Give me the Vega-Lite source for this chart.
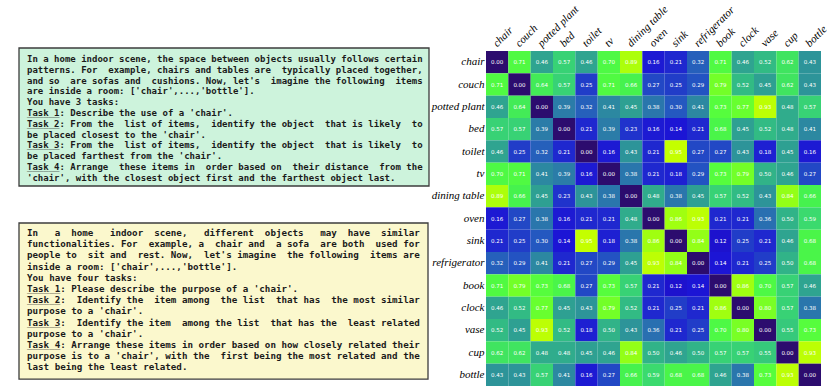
{
  "$schema": "https://vega.github.io/schema/vega-lite/v6.json",
  "padding": {"left": 18, "top": 3, "right": 0, "bottom": 0},
  "background": "white",
  "bounds": "flush",
  "spacing": 57,
  "config": {"view": {"stroke": null}},
  "hconcat": [
    {
      "width": 410,
      "height": 335,
      "resolve": {"scale": {"x": "independent", "y": "independent"}},
      "layer": [
        {
          "data": {"values": [
            {"line": 1, "text": "In a home indoor scene, the space between objects usually follows certain", "u": ""},
            {"line": 2, "text": "patterns. For\u00a0 example, chairs and tables are\u00a0 typically placed together,", "u": ""},
            {"line": 3, "text": "and so\u00a0 are sofas and\u00a0 cushions. Now, let's\u00a0 imagine the following\u00a0 items", "u": ""},
            {"line": 4, "text": "are inside a room: ['chair',...,'bottle'].", "u": ""},
            {"line": 5, "text": "You have 3 tasks:", "u": ""},
            {"line": 6, "text": "Task 1: Describe the use of a 'chair'.", "u": "______"},
            {"line": 7, "text": "Task 2: From the\u00a0 list of items,\u00a0 identify the object\u00a0 that is likely\u00a0 to", "u": "______"},
            {"line": 8, "text": "be placed closest to the 'chair'.", "u": ""},
            {"line": 9, "text": "Task 3: From the\u00a0 list of items,\u00a0 identify the object\u00a0 that is likely\u00a0 to", "u": "______"},
            {"line": 10, "text": "be placed farthest from the 'chair'.", "u": ""},
            {"line": 11, "text": "Task 4: Arrange\u00a0 these items in\u00a0 order based on\u00a0 their distance\u00a0 from the", "u": "______"},
            {"line": 12, "text": "'chair', with the closest object first and the farthest object last.", "u": ""}
          ]},
          "layer": [
            {
              "data": {"values": [{}]},
              "mark": {"type": "rect", "fill": "#cdf3dc", "stroke": "#3c3c3c", "strokeWidth": 1.3},
              "encoding": {
                "x": {"datum": -1.476, "type": "quantitative", "scale": {"domain": [-1.476, 74.19], "nice": false, "zero": false}, "axis": null},
                "x2": {"datum": 74.19},
                "y": {"datum": -0.02, "type": "quantitative", "scale": {"domain": [0.2593, 31.278], "reverse": true, "nice": false, "zero": false}, "axis": null},
                "y2": {"datum": 12.76}
              }
            },
            {
              "mark": {"type": "text", "align": "left", "baseline": "middle", "font": "DejaVu Sans Mono", "fontWeight": "bold", "fontSize": 9, "color": "#1a1a1a"},
              "encoding": {
                "x": {"datum": 0, "type": "quantitative", "scale": {"domain": [-1.476, 74.19], "nice": false, "zero": false}, "axis": null},
                "y": {"field": "line", "type": "quantitative", "scale": {"domain": [0.2593, 31.278], "reverse": true, "nice": false, "zero": false}, "axis": null},
                "text": {"field": "text"}
              }
            },
            {
              "mark": {"type": "text", "align": "left", "baseline": "middle", "font": "DejaVu Sans Mono", "fontSize": 9, "color": "#1a1a1a"},
              "encoding": {
                "x": {"datum": 0, "type": "quantitative", "scale": {"domain": [-1.476, 74.19], "nice": false, "zero": false}, "axis": null},
                "y": {"field": "line", "type": "quantitative", "scale": {"domain": [0.2593, 31.278], "reverse": true, "nice": false, "zero": false}, "axis": null},
                "text": {"field": "u"}
              }
            }
          ]
        },
        {
          "data": {"values": [
            {"line": 1, "text": "In \u00a0 a \u00a0home \u00a0 indoor \u00a0scene, \u00a0 different \u00a0objects \u00a0 may \u00a0have \u00a0similar", "u": ""},
            {"line": 2, "text": "functionalities. For\u00a0 example, a\u00a0 chair and\u00a0 a sofa\u00a0 are both\u00a0 used for", "u": ""},
            {"line": 3, "text": "people to\u00a0 sit and\u00a0 rest. Now,\u00a0 let's imagine\u00a0 the following\u00a0 items are", "u": ""},
            {"line": 4, "text": "inside a room: ['chair',...,'bottle'].", "u": ""},
            {"line": 5, "text": "You have four tasks:", "u": ""},
            {"line": 6, "text": "Task 1: Please describe the purpose of a 'chair'.", "u": "______"},
            {"line": 7, "text": "Task 2:\u00a0 Identify the\u00a0 item among\u00a0 the list\u00a0 that has\u00a0 the most similar", "u": "______"},
            {"line": 8, "text": "purpose to a 'chair'.", "u": ""},
            {"line": 9, "text": "Task 3:\u00a0 Identify the item\u00a0 among the list\u00a0 that has the\u00a0 least related", "u": "______"},
            {"line": 10, "text": "purpose to a 'chair'.", "u": ""},
            {"line": 11, "text": "Task 4: Arrange these items in order based on how closely related their", "u": "______"},
            {"line": 12, "text": "purpose is to a 'chair', with the\u00a0 first being the most related and the", "u": ""},
            {"line": 13, "text": "last being the least related.", "u": ""}
          ]},
          "layer": [
            {
              "data": {"values": [{}]},
              "mark": {"type": "rect", "fill": "#fbf8cd", "stroke": "#3c3c3c", "strokeWidth": 1.3},
              "encoding": {
                "x": {"datum": -1.444, "type": "quantitative", "scale": {"domain": [-1.444, 72.56], "nice": false, "zero": false}, "axis": null},
                "x2": {"datum": 72.38},
                "y": {"datum": 0.107, "type": "quantitative", "scale": {"domain": [-15.25, 14.66], "reverse": true, "nice": false, "zero": false}, "axis": null},
                "y2": {"datum": 14.04}
              }
            },
            {
              "mark": {"type": "text", "align": "left", "baseline": "middle", "font": "DejaVu Sans Mono", "fontWeight": "bold", "fontSize": 9.2, "color": "#1a1a1a"},
              "encoding": {
                "x": {"datum": 0, "type": "quantitative", "scale": {"domain": [-1.444, 72.56], "nice": false, "zero": false}, "axis": null},
                "y": {"field": "line", "type": "quantitative", "scale": {"domain": [-15.25, 14.66], "reverse": true, "nice": false, "zero": false}, "axis": null},
                "text": {"field": "text"}
              }
            },
            {
              "mark": {"type": "text", "align": "left", "baseline": "middle", "font": "DejaVu Sans Mono", "fontSize": 9.2, "color": "#1a1a1a"},
              "encoding": {
                "x": {"datum": 0, "type": "quantitative", "scale": {"domain": [-1.444, 72.56], "nice": false, "zero": false}, "axis": null},
                "y": {"field": "line", "type": "quantitative", "scale": {"domain": [-15.25, 14.66], "reverse": true, "nice": false, "zero": false}, "axis": null},
                "text": {"field": "u"}
              }
            }
          ]
        }
      ]
    },
    {
      "width": 335,
      "height": 335,
      "data": {"values": [
        {"r":"chair","c":"chair","v":0.00},{"r":"chair","c":"couch","v":0.71},{"r":"chair","c":"potted plant","v":0.46},{"r":"chair","c":"bed","v":0.57},{"r":"chair","c":"toilet","v":0.46},{"r":"chair","c":"tv","v":0.70},{"r":"chair","c":"dining table","v":0.89},{"r":"chair","c":"oven","v":0.16},{"r":"chair","c":"sink","v":0.21},{"r":"chair","c":"refrigerator","v":0.32},{"r":"chair","c":"book","v":0.71},{"r":"chair","c":"clock","v":0.46},{"r":"chair","c":"vase","v":0.52},{"r":"chair","c":"cup","v":0.62},{"r":"chair","c":"bottle","v":0.43},
        {"r":"couch","c":"chair","v":0.71},{"r":"couch","c":"couch","v":0.00},{"r":"couch","c":"potted plant","v":0.64},{"r":"couch","c":"bed","v":0.57},{"r":"couch","c":"toilet","v":0.25},{"r":"couch","c":"tv","v":0.71},{"r":"couch","c":"dining table","v":0.66},{"r":"couch","c":"oven","v":0.27},{"r":"couch","c":"sink","v":0.25},{"r":"couch","c":"refrigerator","v":0.29},{"r":"couch","c":"book","v":0.79},{"r":"couch","c":"clock","v":0.52},{"r":"couch","c":"vase","v":0.45},{"r":"couch","c":"cup","v":0.62},{"r":"couch","c":"bottle","v":0.43},
        {"r":"potted plant","c":"chair","v":0.46},{"r":"potted plant","c":"couch","v":0.64},{"r":"potted plant","c":"potted plant","v":0.00},{"r":"potted plant","c":"bed","v":0.39},{"r":"potted plant","c":"toilet","v":0.32},{"r":"potted plant","c":"tv","v":0.41},{"r":"potted plant","c":"dining table","v":0.45},{"r":"potted plant","c":"oven","v":0.38},{"r":"potted plant","c":"sink","v":0.30},{"r":"potted plant","c":"refrigerator","v":0.41},{"r":"potted plant","c":"book","v":0.73},{"r":"potted plant","c":"clock","v":0.77},{"r":"potted plant","c":"vase","v":0.93},{"r":"potted plant","c":"cup","v":0.48},{"r":"potted plant","c":"bottle","v":0.57},
        {"r":"bed","c":"chair","v":0.57},{"r":"bed","c":"couch","v":0.57},{"r":"bed","c":"potted plant","v":0.39},{"r":"bed","c":"bed","v":0.00},{"r":"bed","c":"toilet","v":0.21},{"r":"bed","c":"tv","v":0.39},{"r":"bed","c":"dining table","v":0.23},{"r":"bed","c":"oven","v":0.16},{"r":"bed","c":"sink","v":0.14},{"r":"bed","c":"refrigerator","v":0.21},{"r":"bed","c":"book","v":0.68},{"r":"bed","c":"clock","v":0.45},{"r":"bed","c":"vase","v":0.52},{"r":"bed","c":"cup","v":0.48},{"r":"bed","c":"bottle","v":0.41},
        {"r":"toilet","c":"chair","v":0.46},{"r":"toilet","c":"couch","v":0.25},{"r":"toilet","c":"potted plant","v":0.32},{"r":"toilet","c":"bed","v":0.21},{"r":"toilet","c":"toilet","v":0.00},{"r":"toilet","c":"tv","v":0.16},{"r":"toilet","c":"dining table","v":0.43},{"r":"toilet","c":"oven","v":0.21},{"r":"toilet","c":"sink","v":0.95},{"r":"toilet","c":"refrigerator","v":0.27},{"r":"toilet","c":"book","v":0.27},{"r":"toilet","c":"clock","v":0.43},{"r":"toilet","c":"vase","v":0.18},{"r":"toilet","c":"cup","v":0.45},{"r":"toilet","c":"bottle","v":0.16},
        {"r":"tv","c":"chair","v":0.70},{"r":"tv","c":"couch","v":0.71},{"r":"tv","c":"potted plant","v":0.41},{"r":"tv","c":"bed","v":0.39},{"r":"tv","c":"toilet","v":0.16},{"r":"tv","c":"tv","v":0.00},{"r":"tv","c":"dining table","v":0.38},{"r":"tv","c":"oven","v":0.21},{"r":"tv","c":"sink","v":0.18},{"r":"tv","c":"refrigerator","v":0.29},{"r":"tv","c":"book","v":0.73},{"r":"tv","c":"clock","v":0.79},{"r":"tv","c":"vase","v":0.50},{"r":"tv","c":"cup","v":0.46},{"r":"tv","c":"bottle","v":0.27},
        {"r":"dining table","c":"chair","v":0.89},{"r":"dining table","c":"couch","v":0.66},{"r":"dining table","c":"potted plant","v":0.45},{"r":"dining table","c":"bed","v":0.23},{"r":"dining table","c":"toilet","v":0.43},{"r":"dining table","c":"tv","v":0.38},{"r":"dining table","c":"dining table","v":0.00},{"r":"dining table","c":"oven","v":0.48},{"r":"dining table","c":"sink","v":0.38},{"r":"dining table","c":"refrigerator","v":0.45},{"r":"dining table","c":"book","v":0.57},{"r":"dining table","c":"clock","v":0.52},{"r":"dining table","c":"vase","v":0.43},{"r":"dining table","c":"cup","v":0.84},{"r":"dining table","c":"bottle","v":0.66},
        {"r":"oven","c":"chair","v":0.16},{"r":"oven","c":"couch","v":0.27},{"r":"oven","c":"potted plant","v":0.38},{"r":"oven","c":"bed","v":0.16},{"r":"oven","c":"toilet","v":0.21},{"r":"oven","c":"tv","v":0.21},{"r":"oven","c":"dining table","v":0.48},{"r":"oven","c":"oven","v":0.00},{"r":"oven","c":"sink","v":0.86},{"r":"oven","c":"refrigerator","v":0.93},{"r":"oven","c":"book","v":0.21},{"r":"oven","c":"clock","v":0.21},{"r":"oven","c":"vase","v":0.36},{"r":"oven","c":"cup","v":0.50},{"r":"oven","c":"bottle","v":0.59},
        {"r":"sink","c":"chair","v":0.21},{"r":"sink","c":"couch","v":0.25},{"r":"sink","c":"potted plant","v":0.30},{"r":"sink","c":"bed","v":0.14},{"r":"sink","c":"toilet","v":0.95},{"r":"sink","c":"tv","v":0.18},{"r":"sink","c":"dining table","v":0.38},{"r":"sink","c":"oven","v":0.86},{"r":"sink","c":"sink","v":0.00},{"r":"sink","c":"refrigerator","v":0.84},{"r":"sink","c":"book","v":0.12},{"r":"sink","c":"clock","v":0.25},{"r":"sink","c":"vase","v":0.21},{"r":"sink","c":"cup","v":0.46},{"r":"sink","c":"bottle","v":0.68},
        {"r":"refrigerator","c":"chair","v":0.32},{"r":"refrigerator","c":"couch","v":0.29},{"r":"refrigerator","c":"potted plant","v":0.41},{"r":"refrigerator","c":"bed","v":0.21},{"r":"refrigerator","c":"toilet","v":0.27},{"r":"refrigerator","c":"tv","v":0.29},{"r":"refrigerator","c":"dining table","v":0.45},{"r":"refrigerator","c":"oven","v":0.93},{"r":"refrigerator","c":"sink","v":0.84},{"r":"refrigerator","c":"refrigerator","v":0.00},{"r":"refrigerator","c":"book","v":0.14},{"r":"refrigerator","c":"clock","v":0.21},{"r":"refrigerator","c":"vase","v":0.25},{"r":"refrigerator","c":"cup","v":0.50},{"r":"refrigerator","c":"bottle","v":0.68},
        {"r":"book","c":"chair","v":0.71},{"r":"book","c":"couch","v":0.79},{"r":"book","c":"potted plant","v":0.73},{"r":"book","c":"bed","v":0.68},{"r":"book","c":"toilet","v":0.27},{"r":"book","c":"tv","v":0.73},{"r":"book","c":"dining table","v":0.57},{"r":"book","c":"oven","v":0.21},{"r":"book","c":"sink","v":0.12},{"r":"book","c":"refrigerator","v":0.14},{"r":"book","c":"book","v":0.00},{"r":"book","c":"clock","v":0.86},{"r":"book","c":"vase","v":0.70},{"r":"book","c":"cup","v":0.57},{"r":"book","c":"bottle","v":0.46},
        {"r":"clock","c":"chair","v":0.46},{"r":"clock","c":"couch","v":0.52},{"r":"clock","c":"potted plant","v":0.77},{"r":"clock","c":"bed","v":0.45},{"r":"clock","c":"toilet","v":0.43},{"r":"clock","c":"tv","v":0.79},{"r":"clock","c":"dining table","v":0.52},{"r":"clock","c":"oven","v":0.21},{"r":"clock","c":"sink","v":0.25},{"r":"clock","c":"refrigerator","v":0.21},{"r":"clock","c":"book","v":0.86},{"r":"clock","c":"clock","v":0.00},{"r":"clock","c":"vase","v":0.80},{"r":"clock","c":"cup","v":0.57},{"r":"clock","c":"bottle","v":0.38},
        {"r":"vase","c":"chair","v":0.52},{"r":"vase","c":"couch","v":0.45},{"r":"vase","c":"potted plant","v":0.93},{"r":"vase","c":"bed","v":0.52},{"r":"vase","c":"toilet","v":0.18},{"r":"vase","c":"tv","v":0.50},{"r":"vase","c":"dining table","v":0.43},{"r":"vase","c":"oven","v":0.36},{"r":"vase","c":"sink","v":0.21},{"r":"vase","c":"refrigerator","v":0.25},{"r":"vase","c":"book","v":0.70},{"r":"vase","c":"clock","v":0.80},{"r":"vase","c":"vase","v":0.00},{"r":"vase","c":"cup","v":0.55},{"r":"vase","c":"bottle","v":0.73},
        {"r":"cup","c":"chair","v":0.62},{"r":"cup","c":"couch","v":0.62},{"r":"cup","c":"potted plant","v":0.48},{"r":"cup","c":"bed","v":0.48},{"r":"cup","c":"toilet","v":0.45},{"r":"cup","c":"tv","v":0.46},{"r":"cup","c":"dining table","v":0.84},{"r":"cup","c":"oven","v":0.50},{"r":"cup","c":"sink","v":0.46},{"r":"cup","c":"refrigerator","v":0.50},{"r":"cup","c":"book","v":0.57},{"r":"cup","c":"clock","v":0.57},{"r":"cup","c":"vase","v":0.55},{"r":"cup","c":"cup","v":0.00},{"r":"cup","c":"bottle","v":0.93},
        {"r":"bottle","c":"chair","v":0.43},{"r":"bottle","c":"couch","v":0.43},{"r":"bottle","c":"potted plant","v":0.57},{"r":"bottle","c":"bed","v":0.41},{"r":"bottle","c":"toilet","v":0.16},{"r":"bottle","c":"tv","v":0.27},{"r":"bottle","c":"dining table","v":0.66},{"r":"bottle","c":"oven","v":0.59},{"r":"bottle","c":"sink","v":0.68},{"r":"bottle","c":"refrigerator","v":0.68},{"r":"bottle","c":"book","v":0.46},{"r":"bottle","c":"clock","v":0.38},{"r":"bottle","c":"vase","v":0.73},{"r":"bottle","c":"cup","v":0.93},{"r":"bottle","c":"bottle","v":0.00}
      ]},
      "encoding": {
        "x": {
          "field": "c", "type": "nominal",
          "sort": ["chair","couch","potted plant","bed","toilet","tv","dining table","oven","sink","refrigerator","book","clock","vase","cup","bottle"],
          "scale": {"paddingInner": 0, "paddingOuter": 0},
          "axis": {"orient": "top", "labelAngle": -45, "labelAlign": "left", "labelBaseline": "alphabetic", "ticks": false, "domain": false, "title": null, "labelFont": "Liberation Serif", "labelFontStyle": "italic", "labelFontSize": 11, "labelColor": "#000000", "labelPadding": 4}
        },
        "y": {
          "field": "r", "type": "nominal",
          "sort": ["chair","couch","potted plant","bed","toilet","tv","dining table","oven","sink","refrigerator","book","clock","vase","cup","bottle"],
          "scale": {"paddingInner": 0, "paddingOuter": 0},
          "axis": {"ticks": false, "domain": false, "title": null, "labelFont": "Liberation Serif", "labelFontStyle": "italic", "labelFontSize": 11, "labelColor": "#000000", "labelPadding": 2}
        }
      },
      "layer": [
        {
          "mark": {"type": "rect"},
          "encoding": {
            "color": {
              "field": "v", "type": "quantitative", "legend": null,
              "scale": {
                "interpolate": "rgb",
                "domain": [0, 0.13, 0.21, 0.3, 0.38, 0.45, 0.52, 0.58, 0.66, 0.72, 0.78, 0.86, 0.95],
                "range": ["#2c0c6e", "#1c12d6", "#1f28cf", "#2458c0", "#2a76ac", "#2ea092", "#32bb84", "#39d672", "#46f24e", "#52fc40", "#6cff2c", "#a0ff10", "#c4ff00"]
              }
            }
          }
        },
        {
          "mark": {"type": "text", "fontSize": 5.5, "font": "DejaVu Sans", "color": "#ffffff"},
          "encoding": {"text": {"field": "v", "type": "quantitative", "format": ".2f"}}
        }
      ]
    }
  ]
}
